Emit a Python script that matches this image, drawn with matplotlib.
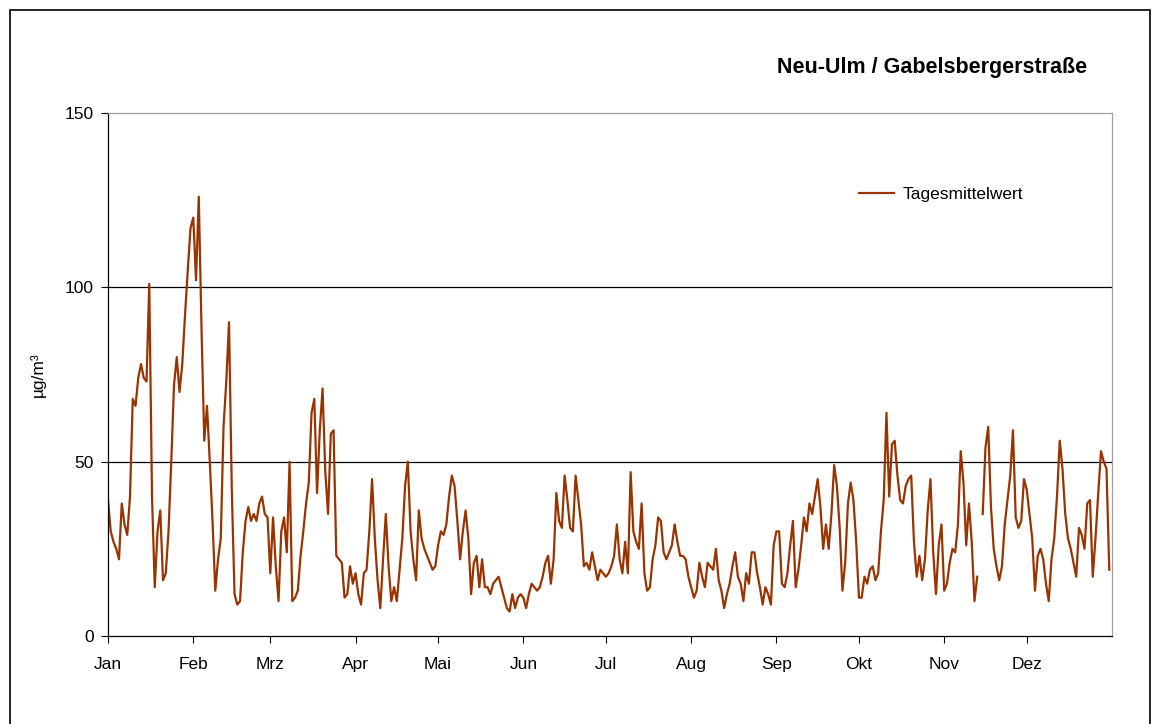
import numpy as np
import matplotlib.pyplot as plt
from matplotlib.patches import Rectangle

# Daily mean concentration per month (µg/m³)
jan = [39, 30, 27, 25, 22, 38, 32, 29, 40, 68, 66, 74, 78, 74, 73, 101, 40, 14, 30, 36,
       16, 18, 30, 50, 72, 80, 70, 78, 92, 105, 117]
feb = [120, 102, 126, 88, 56, 66, 50, 33, 13, 22, 28, 60, 73, 90, 42, 12, 9, 10, 24, 33,
       37, 33, 35, 33, 38, 40, 35, 34]
mrz = [18, 34, 20, 10, 30, 34, 24, 50, 10, 11, 13, 23, 30, 38, 44, 64, 68, 41, 59, 71,
       47, 35, 58, 59, 23, 22, 21, 11, 12, 20, 15]
apr = [18, 12, 9, 18, 19, 30, 45, 28, 16, 8, 22, 35, 20, 10, 14, 10, 19, 28, 43, 50,
       30, 22, 16, 36, 28, 25, 23, 21, 19, 20]
mai = [26, 30, 29, 32, 40, 46, 43, 33, 22, 30, 36, 28, 12, 21, 23, 14, 22, 14, 14, 12,
       15, 16, 17, 14, 11, 8, 7, 12, 8, 11, 12]
jun = [11, 8, 12, 15, 14, 13, 14, 17, 21, 23, 15, 22, 41, 33, 31, 46, 39, 31, 30, 46,
       39, 32, 20, 21, 19, 24, 20, 16, 19, 18]
jul = [17, 18, 20, 23, 32, 22, 18, 27, 18, 47, 30, 27, 25, 38, 18, 13, 14, 22, 26, 34,
       33, 24, 22, 24, 26, 32, 27, 23, 23, 22, 17]
aug = [14, 11, 13, 21, 17, 14, 21, 20, 19, 25, 16, 13, 8, 12, 15, 20, 24, 17, 15, 10,
       18, 15, 24, 24, 18, 14, 9, 14, 12, 9, 26]
sep = [30, 30, 15, 14, 18, 26, 33, 14, 19, 26, 34, 30, 38, 35, 40, 45, 37, 25, 32, 25,
       35, 49, 43, 31, 13, 21, 38, 44, 39, 27]
okt = [11, 11, 17, 15, 19, 20, 16, 18, 30, 39, 64, 40, 55, 56, 46, 39, 38, 43, 45, 46,
       27, 17, 23, 16, 22, 36, 45, 24, 12, 26, 32]
nov = [13, 15, 21, 25, 24, 32, 53, 44, 26, 38, 27, 10, 17, np.nan, 35, 54, 60, 37, 25, 20,
       16, 20, 32, 39, 46, 59, 34, 31, 33, 45]
dez = [42, 35, 28, 13, 23, 25, 22, 15, 10, 22, 28, 40, 56, 48, 35, 28, 25, 21, 17, 31,
       29, 25, 38, 39, 17, 28, 41, 53, 50, 48, 19]

month_labels = ["Jan", "Feb", "Mrz", "Apr", "Mai", "Jun", "Jul", "Aug", "Sep", "Okt", "Nov", "Dez"]
months = [jan, feb, mrz, apr, mai, jun, jul, aug, sep, okt, nov, dez]

values = np.concatenate([np.array(m, dtype=float) for m in months])
days = np.arange(len(values))
month_starts = np.cumsum([0] + [len(m) for m in months[:-1]])

plt.rcParams['font.family'] = ['Liberation Sans', 'DejaVu Sans']

fig = plt.figure(figsize=(11.56, 7.24), dpi=100)
ax = fig.add_axes([108 / 1156, 1 - 636 / 724, 1004 / 1156, 523 / 724])

# outer frame of the chart
fig.patches.append(Rectangle((10 / 1156, -0.01), 1140 / 1156, 1 - 10 / 724 + 0.01,
                             transform=fig.transFigure, fill=False, edgecolor='black',
                             linewidth=1.2))

ax.plot(days, values, color='#993300', linewidth=1.6, label='Tagesmittelwert')

ax.set_xlim(0, 365)
ax.set_ylim(0, 150)
ax.set_yticks([0, 50, 100, 150])
ax.set_xticks(month_starts)
ax.set_xticklabels(month_labels)
ax.tick_params(axis='both', labelsize=12.5, direction='out', length=5, color='black')
ax.tick_params(axis='x', pad=10)
ax.tick_params(axis='y', pad=5)

for y in (50, 100):
    ax.axhline(y, color='black', linewidth=0.9, zorder=0)

for side in ('top', 'right'):
    ax.spines[side].set_color('#a0a0a0')
    ax.spines[side].set_linewidth(0.9)
for side in ('left', 'bottom'):
    ax.spines[side].set_color('black')
    ax.spines[side].set_linewidth(0.9)

ax.set_ylabel('µg/m³', fontsize=12.5, labelpad=14)

fig.text(1087 / 1156, 1 - 68 / 724, 'Neu-Ulm / Gabelsbergerstraße', fontsize=15.5,
         fontweight='bold', ha='right', va='center')

ax.legend(loc='upper left', bbox_to_anchor=((852 - 108) / 1004, (636 - 180) / 523),
          frameon=False, fontsize=12.5, handlelength=2.0, handletextpad=0.5,
          borderaxespad=0)

fig.savefig('out.png', dpi=100)
